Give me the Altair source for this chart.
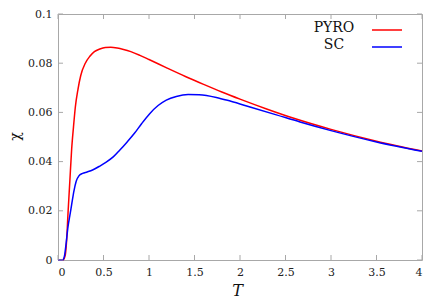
import altair as alt
import pandas as pd

# ---------------- data ----------------
T_PYRO = [0, 0.04, 0.06, 0.08, 0.095, 0.11, 0.13, 0.15, 0.17, 0.19, 0.22, 0.25,
          0.30, 0.35, 0.40, 0.46, 0.52, 0.58, 0.65, 0.72, 0.80, 0.90, 1.0,
          1.2, 1.4, 1.6, 1.8, 2.0, 2.3, 2.6, 3.0, 3.5, 4.0]
CHI_PYRO = [0, 0, 0.0002, 0.002, 0.008, 0.019, 0.032, 0.045, 0.054, 0.062, 0.0695, 0.075,
            0.0800, 0.0828, 0.0847, 0.0858, 0.0864, 0.0865, 0.0862, 0.0856, 0.0847, 0.0832, 0.0815,
            0.0780, 0.0746, 0.0714, 0.0683, 0.0654, 0.0613, 0.0575, 0.0531, 0.0483, 0.0443]

T_SC = [0, 0.05, 0.07, 0.09, 0.11, 0.13, 0.15, 0.175, 0.2, 0.23, 0.27, 0.32, 0.38,
        0.46, 0.53, 0.61, 0.68, 0.76, 0.84, 0.92, 1.01, 1.1, 1.19, 1.3, 1.43, 1.55,
        1.74, 1.9, 2.11, 2.4, 2.66, 3.0, 3.5, 4.0]
CHI_SC = [0, 0, 0.0015, 0.007, 0.0136, 0.018, 0.0225, 0.028, 0.032, 0.0342, 0.0352, 0.0358, 0.0366,
          0.0382, 0.0398, 0.0420, 0.0447, 0.0480, 0.0515, 0.0555, 0.0596, 0.0628, 0.0650, 0.0665, 0.0673, 0.0672,
          0.0661, 0.0645, 0.0622, 0.0590, 0.0561, 0.0526, 0.0480, 0.0442]

SERIES = ["PYRO", "SC"]
X_TICKS = [0, 0.5, 1, 1.5, 2, 2.5, 3, 3.5, 4]
Y_TICKS = [0, 0.02, 0.04, 0.06, 0.08, 0.1]

# ---------------- styles ----------------
W, H = 364, 246
FRAME = "#a8a8a8"
COLORS = ["#ff0000", "#0000ff"]
FONT = "DejaVu Serif"
TICK_LEN = 5
LEGEND_TEXT_X = 276
LEGEND_Y = {"PYRO": 14, "SC": 31}
LEGEND_LINE_X = (314, 344)

df = pd.concat([
    pd.DataFrame({"T": T_PYRO, "chi": CHI_PYRO, "series": "PYRO"}),
    pd.DataFrame({"T": T_SC, "chi": CHI_SC, "series": "SC"}),
], ignore_index=True)

x_scale = alt.Scale(domain=[0, 4], nice=False, zero=False)
y_scale = alt.Scale(domain=[0, 0.1], nice=False)
color_scale = alt.Scale(domain=SERIES, range=COLORS)

x_axis = alt.Axis(values=X_TICKS, format="~g", title="T", ticks=False, domain=False,
                  grid=False, labelPadding=6, titleFontStyle="italic",
                  titleX=179, titleY=30, titleBaseline="middle")
y_axis = alt.Axis(values=Y_TICKS, format="~g", title="χ", ticks=False, domain=False,
                  grid=False, labelPadding=6, titleAngle=270, titleX=-43, titleY=122,
                  titleBaseline="middle", titleAlign="center", titleFontSize=14)

lines = alt.Chart(df).mark_line(strokeWidth=1.5, interpolate="monotone").encode(
    x=alt.X("T:Q", scale=x_scale, axis=x_axis),
    y=alt.Y("chi:Q", scale=y_scale, axis=y_axis),
    color=alt.Color("series:N", scale=color_scale, legend=None),
    detail="series:N",
)

xt = pd.DataFrame({"T": X_TICKS})
yt = pd.DataFrame({"chi": Y_TICKS})

x_bottom = alt.Chart(xt).mark_rule(color=FRAME, strokeWidth=1).encode(
    x=alt.X("T:Q", scale=x_scale, axis=x_axis), y=alt.value(H), y2=alt.value(H - TICK_LEN))
x_top = alt.Chart(xt).mark_rule(color=FRAME, strokeWidth=1).encode(
    x=alt.X("T:Q", scale=x_scale, axis=x_axis), y=alt.value(0), y2=alt.value(TICK_LEN))
y_left = alt.Chart(yt).mark_rule(color=FRAME, strokeWidth=1).encode(
    y=alt.Y("chi:Q", scale=y_scale, axis=y_axis), x=alt.value(0), x2=alt.value(TICK_LEN))
y_right = alt.Chart(yt).mark_rule(color=FRAME, strokeWidth=1).encode(
    y=alt.Y("chi:Q", scale=y_scale, axis=y_axis), x=alt.value(W - TICK_LEN), x2=alt.value(W))

legend_layers = []
for s in SERIES:
    ld = pd.DataFrame({"series": [s]})
    legend_layers.append(
        alt.Chart(ld).mark_text(font=FONT, fontSize=14, align="center", baseline="middle",
                                color="#111111").encode(
            text="series:N", x=alt.value(LEGEND_TEXT_X), y=alt.value(LEGEND_Y[s]))
    )
    legend_layers.append(
        alt.Chart(ld).mark_rule(strokeWidth=1.5).encode(
            x=alt.value(LEGEND_LINE_X[0]), x2=alt.value(LEGEND_LINE_X[1]),
            y=alt.value(LEGEND_Y[s] + 2),
            color=alt.Color("series:N", scale=color_scale, legend=None))
    )

chart = alt.layer(lines, x_bottom, x_top, y_left, y_right, *legend_layers).properties(
    width=W, height=H,
    autosize=alt.AutoSizeParams(type="none"),
    padding={"left": 50, "top": 6, "right": 6, "bottom": 38},
).configure_view(stroke=FRAME, strokeWidth=1).configure_axis(
    labelFont=FONT, labelFontSize=11, labelColor="#222222",
    titleFont=FONT, titleFontSize=16, titleColor="#111111", titleFontWeight="normal",
)

chart.save("out.html", embed_options={"renderer": "svg", "actions": False})
